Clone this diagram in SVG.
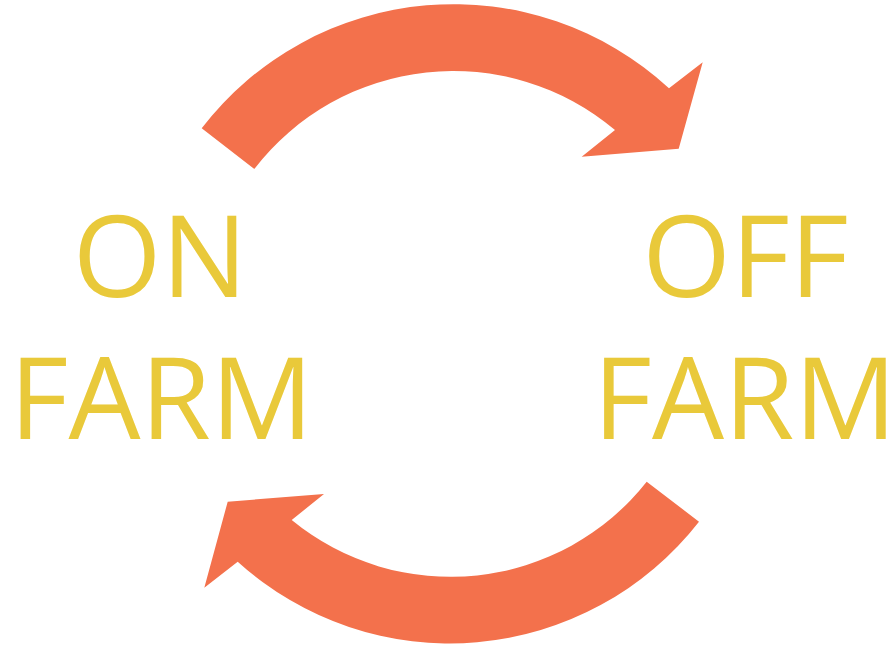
<svg xmlns="http://www.w3.org/2000/svg" width="896" height="647" viewBox="0 0 896 647">
<style>
.arrow{fill:#F3714C;stroke:none}
.lbl{fill:#E9C93A;font-family:"Open Sans","Liberation Sans",sans-serif;font-size:114px;text-anchor:middle}
</style>
<rect width="896" height="647" fill="#ffffff"/>
<g id="connectors">
<path id="arrow-top" class="arrow" d="M 201.7,128.3 A 317.7 317.7 0 0 1 669,88.3 L 702.7,62.3 L 678.7,148.7 L 581.7,156.7 L 615,130 A 251 251 0 0 0 254.3,169 Z"/>
<path id="arrow-bottom" class="arrow" d="M 699,521.7 A 316 316 0 0 1 237.7,561.7 L 204.3,587.7 L 227.7,501.7 L 324,494 L 291.7,520 A 250 250 0 0 0 646.7,481.7 Z"/>
</g>
<g id="on-farm">
<text class="lbl" x="160" y="297">ON</text>
<text class="lbl" x="161.5" y="438.5">FARM</text>
</g>
<g id="off-farm">
<text class="lbl" x="745.5" y="297">OFF</text>
<text class="lbl" x="745" y="438.5">FARM</text>
</g>
</svg>
